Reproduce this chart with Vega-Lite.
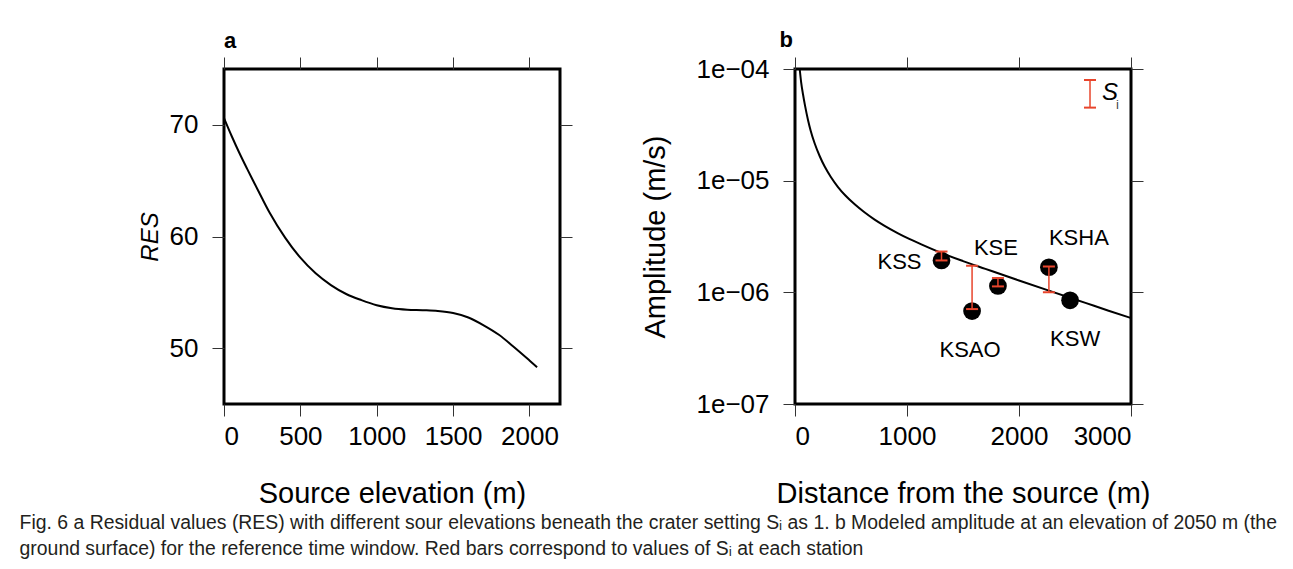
{
  "$schema": "https://vega.github.io/schema/vega-lite/v6.json",
  "background": "white",
  "padding": {"left": 19, "top": 27, "right": 5, "bottom": 5},
  "config": {
    "font": "Liberation Sans",
    "view": {"stroke": "black", "strokeWidth": 3},
    "axis": {
      "grid": false, "domain": false, "tickColor": "#333333", "tickWidth": 1, "tickSize": 12, "minExtent": 0,
      "labelFont": "Liberation Sans", "labelFontSize": 26, "labelColor": "black",
      "titleFont": "Liberation Sans", "titleFontSize": 29, "titleFontWeight": "normal", "titleColor": "black"
    }
  },
  "datasets": {
    "curveA": [
      {"elevation": 0, "res": 70.6}, {"elevation": 50, "res": 69.0}, {"elevation": 100, "res": 67.5},
      {"elevation": 150, "res": 66.1}, {"elevation": 200, "res": 64.75}, {"elevation": 250, "res": 63.4},
      {"elevation": 300, "res": 62.1}, {"elevation": 400, "res": 59.9},
      {"elevation": 500, "res": 58.1}, {"elevation": 600, "res": 56.7}, {"elevation": 700, "res": 55.65},
      {"elevation": 800, "res": 54.85}, {"elevation": 900, "res": 54.3}, {"elevation": 1000, "res": 53.85},
      {"elevation": 1100, "res": 53.58}, {"elevation": 1200, "res": 53.45}, {"elevation": 1300, "res": 53.4},
      {"elevation": 1400, "res": 53.33}, {"elevation": 1500, "res": 53.15}, {"elevation": 1600, "res": 52.75},
      {"elevation": 1700, "res": 52.05}, {"elevation": 1800, "res": 51.2}, {"elevation": 1900, "res": 50.08},
      {"elevation": 2000, "res": 48.9}, {"elevation": 2050, "res": 48.3}
    ],
    "curveB": [
      {"distance": 42, "amp": 1.0e-4}, {"distance": 55, "amp": 7.6e-5}, {"distance": 71, "amp": 5.97e-5},
      {"distance": 90, "amp": 4.677e-5}, {"distance": 116, "amp": 3.5e-5}, {"distance": 140, "amp": 2.805e-5},
      {"distance": 176, "amp": 2.153e-5}, {"distance": 220, "amp": 1.663e-5}, {"distance": 265, "amp": 1.337e-5},
      {"distance": 320, "amp": 1.079e-5}, {"distance": 384, "amp": 8.77e-6}, {"distance": 450, "amp": 7.36e-6},
      {"distance": 533, "amp": 6.14e-6}, {"distance": 620, "amp": 5.21e-6}, {"distance": 711, "amp": 4.48e-6},
      {"distance": 800, "amp": 3.94e-6}, {"distance": 920, "amp": 3.38e-6}, {"distance": 1020, "amp": 3.01e-6},
      {"distance": 1128, "amp": 2.685e-6}, {"distance": 1310, "amp": 2.244e-6}, {"distance": 1500, "amp": 1.905e-6},
      {"distance": 1700, "amp": 1.622e-6}, {"distance": 2000, "amp": 1.276e-6}, {"distance": 2300, "amp": 1.009e-6},
      {"distance": 2600, "amp": 8.0e-7}, {"distance": 2800, "amp": 6.85e-7}, {"distance": 3000, "amp": 5.89e-7}
    ],
    "stations": [
      {"station": "KSS", "distance": 1308, "amp": 1.93e-6, "si_lo": 1.93e-6, "si_hi": 2.32e-6},
      {"station": "KSAO", "distance": 1581, "amp": 6.8e-7, "si_lo": 7.08e-7, "si_hi": 1.73e-6},
      {"station": "KSE", "distance": 1812, "amp": 1.14e-6, "si_lo": 1.13e-6, "si_hi": 1.343e-6},
      {"station": "KSHA", "distance": 2267, "amp": 1.677e-6, "si_lo": 1.0e-6, "si_hi": 1.706e-6},
      {"station": "KSW", "distance": 2456, "amp": 8.48e-7, "si_lo": null, "si_hi": null}
    ],
    "legend": [
      {"distance": 2634, "lo": 4.51e-5, "hi": 7.97e-5}
    ]
  },
  "title": {
    "text": [
      "Fig. 6  a Residual values (RES) with different sour elevations beneath the crater setting Sᵢ as 1. b Modeled amplitude at an elevation of 2050 m (the",
      "ground surface) for the reference time window. Red bars correspond to values of Sᵢ at each station"
    ],
    "orient": "bottom", "anchor": "start", "frame": "bounds", "dx": -117, "offset": 4,
    "font": "Liberation Sans", "fontSize": 19.4, "fontWeight": "normal", "lineHeight": 26, "color": "#231f20"
  },
  "spacing": 66,
  "hconcat": [
    {
      "width": 336, "height": 335,
      "title": {"text": "a", "anchor": "start", "frame": "group", "fontSize": 22, "fontWeight": "bold", "font": "Liberation Sans", "offset": -13, "baseline": "alphabetic", "color": "black"},
      "data": {"name": "curveA"},
      "layer": [
        {
          "mark": {"type": "line", "color": "black", "strokeWidth": 2, "interpolate": "monotone"},
          "encoding": {
            "x": {"field": "elevation", "type": "quantitative", "scale": {"domain": [0, 2200], "nice": false, "zero": false},
                  "axis": {"orient": "bottom", "values": [0, 500, 1000, 1500, 2000], "format": "d", "title": "Source elevation (m)", "labelPadding": 7, "titlePadding": 30}},
            "y": {"field": "res", "type": "quantitative", "scale": {"domain": [45, 75], "nice": false, "zero": false},
                  "axis": {"orient": "left", "values": [50, 60, 70], "title": "RES", "titleFontStyle": "italic", "titleFontSize": 24, "labelPadding": 14, "titlePadding": 7}}
          }
        },
        {
          "mark": {"type": "line", "strokeOpacity": 0},
          "encoding": {
            "x": {"field": "elevation", "type": "quantitative", "axis": {"orient": "top", "values": [0, 500, 1000, 1500, 2000], "labels": false, "title": null}},
            "y": {"field": "res", "type": "quantitative", "axis": {"orient": "right", "values": [50, 60, 70], "labels": false, "title": null}}
          }
        }
      ]
    },
    {
      "width": 336, "height": 335,
      "title": {"text": "b", "anchor": "start", "frame": "group", "align": "right", "dx": -2, "fontSize": 22, "fontWeight": "bold", "font": "Liberation Sans", "offset": -13, "baseline": "alphabetic", "color": "black"},
      "layer": [
        {
          "data": {"name": "curveB"},
          "mark": {"type": "line", "color": "black", "strokeWidth": 2, "interpolate": "monotone"},
          "encoding": {
            "x": {"field": "distance", "type": "quantitative", "scale": {"domain": [0, 3000], "nice": false, "zero": false},
                  "axis": {"orient": "bottom", "values": [0, 1000, 2000, 3000], "format": "d", "title": "Distance from the source (m)", "labelPadding": 7, "titlePadding": 30}},
            "y": {"field": "amp", "type": "quantitative", "scale": {"type": "log", "domain": [1e-7, 1e-4], "nice": false},
                  "axis": {"orient": "left", "values": [1e-7, 1e-6, 1e-5, 1e-4], "title": "Amplitude (m/s)", "labelExpr": "'1e−0' + format(-log(datum.value)/LN10, '.0f')", "labelPadding": 14, "titlePadding": 25}}
          }
        },
        {
          "data": {"name": "curveB"},
          "mark": {"type": "line", "strokeOpacity": 0},
          "encoding": {
            "x": {"field": "distance", "type": "quantitative", "axis": {"orient": "top", "values": [0, 1000, 2000, 3000], "labels": false, "title": null}},
            "y": {"field": "amp", "type": "quantitative", "axis": {"orient": "right", "values": [1e-7, 1e-6, 1e-5, 1e-4], "labels": false, "title": null}}
          }
        },
        {
          "data": {"name": "stations"},
          "mark": {"type": "circle", "size": 314, "color": "black", "opacity": 1},
          "encoding": {
            "x": {"field": "distance", "type": "quantitative", "axis": null},
            "y": {"field": "amp", "type": "quantitative", "axis": null}
          }
        },
        {
          "data": {"name": "stations"},
          "transform": [{"filter": "isValid(datum.si_lo)"}],
          "mark": {"type": "rule", "color": "#e8452c", "strokeWidth": 1.5},
          "encoding": {
            "x": {"field": "distance", "type": "quantitative", "axis": null},
            "y": {"field": "si_lo", "type": "quantitative", "axis": null},
            "y2": {"field": "si_hi"}
          }
        },
        {
          "data": {"name": "stations"},
          "transform": [{"filter": "isValid(datum.si_lo)"}],
          "mark": {"type": "tick", "orient": "horizontal", "color": "#e8452c", "size": 12, "thickness": 2, "opacity": 1},
          "encoding": {
            "x": {"field": "distance", "type": "quantitative", "axis": null},
            "y": {"field": "si_lo", "type": "quantitative", "axis": null}
          }
        },
        {
          "data": {"name": "stations"},
          "transform": [{"filter": "isValid(datum.si_hi)"}],
          "mark": {"type": "tick", "orient": "horizontal", "color": "#e8452c", "size": 12, "thickness": 2, "opacity": 1},
          "encoding": {
            "x": {"field": "distance", "type": "quantitative", "axis": null},
            "y": {"field": "si_hi", "type": "quantitative", "axis": null}
          }
        },
        {
          "data": {"name": "stations"},
          "transform": [{"filter": "datum.station === 'KSS'"}],
          "mark": {"type": "text", "fontSize": 22, "align": "right", "baseline": "middle", "dx": -20, "dy": 2, "color": "black"},
          "encoding": {
            "x": {"field": "distance", "type": "quantitative", "axis": null},
            "y": {"field": "amp", "type": "quantitative", "axis": null},
            "text": {"field": "station"}
          }
        },
        {
          "data": {"name": "stations"},
          "transform": [{"filter": "datum.station === 'KSE'"}],
          "mark": {"type": "text", "fontSize": 22, "align": "center", "baseline": "middle", "dx": -2, "dy": -38, "color": "black"},
          "encoding": {
            "x": {"field": "distance", "type": "quantitative", "axis": null},
            "y": {"field": "amp", "type": "quantitative", "axis": null},
            "text": {"field": "station"}
          }
        },
        {
          "data": {"name": "stations"},
          "transform": [{"filter": "datum.station === 'KSHA'"}],
          "mark": {"type": "text", "fontSize": 22, "align": "left", "baseline": "middle", "dx": 0, "dy": -29, "color": "black"},
          "encoding": {
            "x": {"field": "distance", "type": "quantitative", "axis": null},
            "y": {"field": "amp", "type": "quantitative", "axis": null},
            "text": {"field": "station"}
          }
        },
        {
          "data": {"name": "stations"},
          "transform": [{"filter": "datum.station === 'KSAO'"}],
          "mark": {"type": "text", "fontSize": 22, "align": "center", "baseline": "middle", "dx": -2, "dy": 39, "color": "black"},
          "encoding": {
            "x": {"field": "distance", "type": "quantitative", "axis": null},
            "y": {"field": "amp", "type": "quantitative", "axis": null},
            "text": {"field": "station"}
          }
        },
        {
          "data": {"name": "stations"},
          "transform": [{"filter": "datum.station === 'KSW'"}],
          "mark": {"type": "text", "fontSize": 22, "align": "left", "baseline": "middle", "dx": -20, "dy": 39, "color": "black"},
          "encoding": {
            "x": {"field": "distance", "type": "quantitative", "axis": null},
            "y": {"field": "amp", "type": "quantitative", "axis": null},
            "text": {"field": "station"}
          }
        },
        {
          "data": {"name": "legend"},
          "mark": {"type": "rule", "color": "#e8452c", "strokeWidth": 1.5},
          "encoding": {
            "x": {"field": "distance", "type": "quantitative", "axis": null},
            "y": {"field": "lo", "type": "quantitative", "axis": null},
            "y2": {"field": "hi"}
          }
        },
        {
          "data": {"name": "legend"},
          "mark": {"type": "tick", "orient": "horizontal", "color": "#e8452c", "size": 12, "thickness": 2, "opacity": 1},
          "encoding": {
            "x": {"field": "distance", "type": "quantitative", "axis": null},
            "y": {"field": "lo", "type": "quantitative", "axis": null}
          }
        },
        {
          "data": {"name": "legend"},
          "mark": {"type": "tick", "orient": "horizontal", "color": "#e8452c", "size": 12, "thickness": 2, "opacity": 1},
          "encoding": {
            "x": {"field": "distance", "type": "quantitative", "axis": null},
            "y": {"field": "hi", "type": "quantitative", "axis": null}
          }
        },
        {
          "data": {"name": "legend"},
          "mark": {"type": "text", "text": "S", "fontSize": 24, "fontStyle": "italic", "align": "left", "baseline": "middle", "dx": 12, "dy": 13, "color": "black"},
          "encoding": {
            "x": {"field": "distance", "type": "quantitative", "axis": null},
            "y": {"field": "hi", "type": "quantitative", "axis": null}
          }
        },
        {
          "data": {"name": "legend"},
          "mark": {"type": "text", "text": "i", "fontSize": 13, "align": "left", "baseline": "middle", "dx": 26, "dy": 25, "color": "#444444"},
          "encoding": {
            "x": {"field": "distance", "type": "quantitative", "axis": null},
            "y": {"field": "hi", "type": "quantitative", "axis": null}
          }
        }
      ]
    }
  ]
}
